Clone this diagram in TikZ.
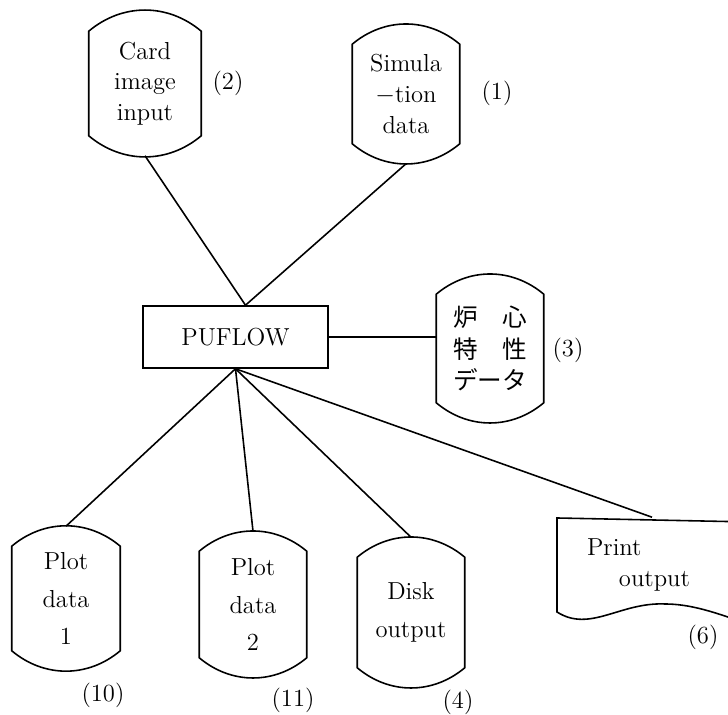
\documentclass[tikz,border=0pt]{standalone}
\usepackage{fontspec}
\newfontfamily\jpfont{Noto Sans CJK JP}
\usetikzlibrary{calc}

\begin{document}
\begin{tikzpicture}[x=0.02cm, y=0.02cm, line width=0.9pt,
    every node/.style={font=\fontsize{14}{17.5}\selectfont},
    drum/.style={minimum width=2.12cm, align=center, inner sep=0pt}]
        \useasboundingbox (0,0) rectangle (728,715);
        \clip (0,0) rectangle (728,715);
        % main program
        \node[draw, minimum width=3.7cm, minimum height=1.24cm] (puflow) at (235.5,378) {PUFLOW};
        % input files
        \node[drum, minimum width=2.22cm, minimum height=2.86cm] (card) at (145,631.5) {Card\\image\\input};
        \node[drum, minimum height=2.76cm] (sim) at (406,621) {Simula\\$-$tion\\data};
        \node[drum, minimum height=2.94cm, font=\jpfont\fontsize{14}{17.9}\selectfont] (core) at (490,366.5) {炉　心\\特　性\\データ};
        % output files
        \node[drum, minimum width=2.14cm, minimum height=2.86cm] (plot1) at (66,116.5) {Plot\\[4pt]data\\[4pt]1};
        \node[drum, minimum height=2.9cm] (plot2) at (253,110.5) {Plot\\[4pt]data\\[4pt]2};
        \node[drum, minimum height=2.98cm] (disk) at (411,102.5) {Disk\\[4pt]output};
        \node[minimum height=1.88cm, text width=2.6cm, inner xsep=0.6cm, align=left] (print) at (652,150) {Print\\\hspace*{1.3em}output};
        % drum outlines
        \foreach \n in {card,sim,core,plot1,plot2,disk}
            \draw ([yshift=-0.4cm]\n.north east) to[bend right=40] ([yshift=-0.4cm]\n.north west)
                -- ([yshift=0.4cm]\n.south west) to[bend right=40] ([yshift=0.4cm]\n.south east) -- cycle;
        % print sheet
        \draw (750,193) -- (557,197) -- (557,103) .. controls (590,82) and (620,113) .. (665,111)
            .. controls (690,111) and (715,103) .. (750,90);
        % connections
        \draw ([xshift=0.2cm]puflow.north) -- (card.south);
        \draw ([xshift=0.2cm]puflow.north) -- (sim.south);
        \draw (puflow.east) -- (puflow.east -| core.west);
        \foreach \n in {plot1,plot2,disk,print}
            \draw (puflow.south) -- (\n.north);
        % unit numbers
        \node (n1) at (497,622) {(1)};
        \node (n2) at (228,632) {(2)};
        \node (n3) at (568,365) {(3)};
        \node (n4) at (458,13) {(4)};
        \node (n6) at (703,78) {(6)};
        \node (n10) at (103,20) {(10)};
        \node (n11) at (293,15) {(11)};
    \end{tikzpicture}
\end{document}
